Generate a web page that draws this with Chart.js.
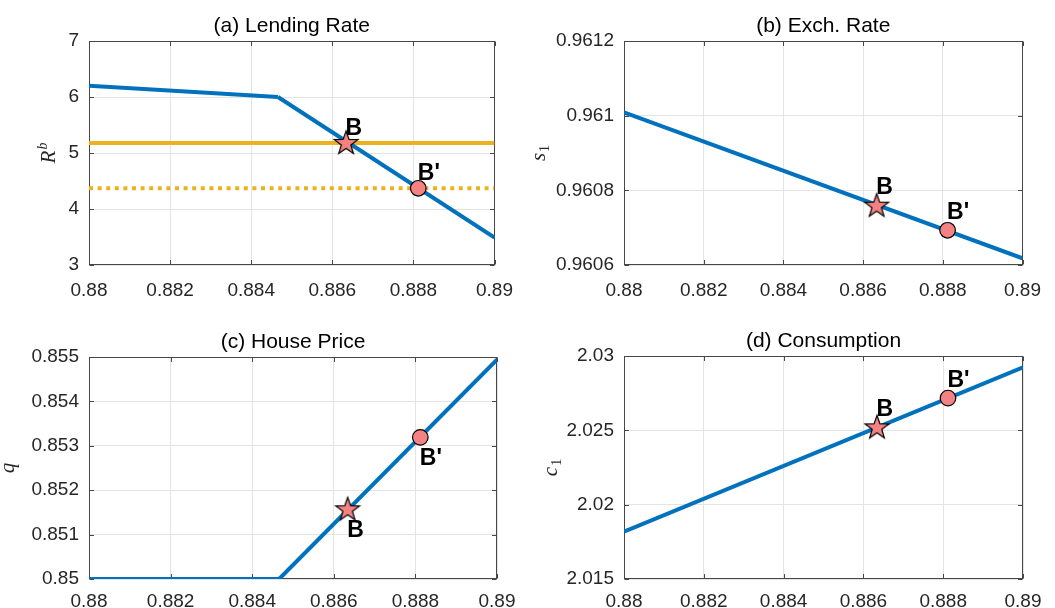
<!DOCTYPE html>
<html>
<head>
<meta charset="utf-8">
<title>Equilibrium responses</title>
<script src="https://cdn.jsdelivr.net/npm/chart.js@4.4.1/dist/chart.umd.min.js"></script>
<style>
  html, body { margin: 0; padding: 0; background: #ffffff; }
  #fig { position: relative; width: 1055px; height: 608px; overflow: hidden; background: #ffffff; }
  #fig canvas { position: absolute; display: block; }
</style>
</head>
<body>
<div id="fig">
  <canvas id="panelA" width="527" height="305" style="left:0px;top:0px"></canvas>
  <canvas id="panelB" width="528" height="305" style="left:527px;top:0px"></canvas>
  <canvas id="panelC" width="527" height="303" style="left:0px;top:305px"></canvas>
  <canvas id="panelD" width="528" height="303" style="left:527px;top:305px"></canvas>
</div>
<script>
// ---------------- data ----------------
// shared horizontal axis
const xTicks = [0.880, 0.882, 0.884, 0.886, 0.888, 0.890];
const xTickLabels = ['0.88', '0.882', '0.884', '0.886', '0.888', '0.89'];

// equilibrium points B and B'
const pointNames = ['B', "B'"];
const pointX = [0.88634, 0.88812];

// (a) lending rate: two regimes either side of the kink
const rateSeg1X = [0.880, 0.88466];
const rateSeg1Y = [6.20, 6.00];
const rateSeg2X = [0.88466, 0.890];
const rateSeg2Y = [6.00, 3.49];
const rateLevelSolid = 5.18;
const rateLevelDotted = 4.37;
const ratePointY = [5.18, 4.37];
const rateTicks = [3, 4, 5, 6, 7];
const rateTickLabels = ['3', '4', '5', '6', '7'];

// (b) exchange rate
const exchX = [0.880, 0.890];
const exchY = [0.961009, 0.960618];
const exchPointY = [0.960759, 0.960693];
const exchTicks = [0.9606, 0.9608, 0.9610, 0.9612];
const exchTickLabels = ['0.9606', '0.9608', '0.961', '0.9612'];

// (c) house price
const houseSeg1X = [0.880, 0.88466];
const houseSeg1Y = [0.850, 0.850];
const houseSeg2X = [0.88466, 0.890];
const houseSeg2Y = [0.850, 0.85494];
const housePointY = [0.85157, 0.85319];
const houseTicks = [0.850, 0.851, 0.852, 0.853, 0.854, 0.855];
const houseTickLabels = ['0.85', '0.851', '0.852', '0.853', '0.854', '0.855'];

// (d) consumption
const consX = [0.880, 0.890];
const consY = [2.01818, 2.02924];
const consPointY = [2.02520, 2.02717];
const consTicks = [2.015, 2.020, 2.025, 2.030];
const consTickLabels = ['2.015', '2.02', '2.025', '2.03'];

// ---------------- styling ----------------
const BLUE = '#0072BD';
const ORANGE = '#EDB120';
const MARKER_FILL = '#F48282';
const GRID = '#e4e4e4';
const AXIS = '#474747';
const TICK_TEXT = '#262626';
const SANS = "'Liberation Sans', Arial, Helvetica, sans-serif";
const SERIF = "'Liberation Serif', 'DejaVu Serif', 'Times New Roman', serif";

const zip = (xs, ys) => xs.map((x, i) => ({ x: x, y: ys[i] }));

// five-pointed star marker
function starMarker(r, fill) {
  const size = 2 * Math.ceil(r + 2);
  const c = document.createElement('canvas');
  c.width = size; c.height = size;
  const g = c.getContext('2d');
  const cx = size / 2, cy = size / 2 + 0.5;
  g.beginPath();
  for (let k = 0; k < 10; k++) {
    const rad = (k % 2 === 0) ? r : r * 0.40;
    const a = -Math.PI / 2 + k * Math.PI / 5;
    const px = cx + rad * Math.cos(a), py = cy + rad * Math.sin(a);
    if (k === 0) g.moveTo(px, py); else g.lineTo(px, py);
  }
  g.closePath();
  g.fillStyle = fill;
  g.fill();
  g.lineWidth = 1.2;
  g.strokeStyle = '#000000';
  g.lineJoin = 'miter';
  g.stroke();
  return c;
}
const STAR = starMarker(12.5, MARKER_FILL);

function curve(data, extra) {
  return Object.assign({
    data: data, borderColor: BLUE, borderWidth: 4, pointRadius: 0,
    showLine: true, fill: false, tension: 0, borderCapStyle: 'butt', order: 2
  }, extra || {});
}

function level(y, dashed) {
  return {
    data: [{ x: 0.880, y: y }, { x: 0.890, y: y }],
    borderColor: ORANGE, borderWidth: 4, pointRadius: 0, showLine: true,
    fill: false, borderDash: dashed ? [4, 4.6] : [], borderCapStyle: 'butt', order: 3
  };
}

function markers(ys) {
  return [
    { data: [{ x: pointX[0], y: ys[0] }], pointStyle: STAR, pointRadius: 12,
      showLine: false, order: 0, clip: false, pointName: pointNames[0] },
    { data: [{ x: pointX[1], y: ys[1] }], pointStyle: 'circle', pointRadius: 7.8,
      pointBackgroundColor: MARKER_FILL, pointBorderColor: '#000000', pointBorderWidth: 1.2,
      showLine: false, order: 0, clip: false, pointName: pointNames[1] }
  ];
}

// frame, inward tick marks, titles, y labels and point names
const decorPlugin = {
  id: 'decor',
  beforeDatasetsDraw(chart, args, o) {
    const ctx = chart.ctx, a = chart.chartArea;
    const L = Math.round(a.left) + 0.5, R = Math.round(a.right) - 0.5;
    const T = Math.round(a.top) + 0.5, B = Math.round(a.bottom) - 0.5;
    ctx.save();
    ctx.strokeStyle = AXIS;
    ctx.lineWidth = 1;
    ctx.strokeRect(L, T, R - L, B - T);
    const len = 4.5;
    ctx.beginPath();
    chart.scales.x.ticks.forEach(t => {
      const px = Math.round(chart.scales.x.getPixelForValue(t.value)) + 0.5;
      ctx.moveTo(px, B); ctx.lineTo(px, B - len);
      ctx.moveTo(px, T); ctx.lineTo(px, T + len);
    });
    chart.scales.y.ticks.forEach(t => {
      const py = Math.round(chart.scales.y.getPixelForValue(t.value)) + 0.5;
      ctx.moveTo(L, py); ctx.lineTo(L + len, py);
      ctx.moveTo(R, py); ctx.lineTo(R - len, py);
    });
    ctx.stroke();
    ctx.restore();
  },
  afterDatasetsDraw(chart, args, o) {
    const ctx = chart.ctx;
    ctx.save();
    ctx.font = 'bold 23px ' + SANS;
    ctx.fillStyle = '#000000';
    ctx.textAlign = 'left';
    chart.data.datasets.forEach((ds, i) => {
      if (!ds.pointName) return;
      const el = chart.getDatasetMeta(i).data[0];
      if (!el) return;
      if (o.below) {
        ctx.textBaseline = 'top';
        ctx.fillText(ds.pointName, el.x - 0.5, el.y + o.labelGap - 3);
      } else {
        ctx.textBaseline = 'alphabetic';
        ctx.fillText(ds.pointName, el.x - 0.5, el.y - o.labelGap);
      }
    });
    ctx.restore();
  },
  afterDraw(chart, args, o) {
    const ctx = chart.ctx, a = chart.chartArea;
    ctx.save();
    // panel title
    ctx.font = '21px ' + SANS;
    ctx.fillStyle = '#000000';
    ctx.textAlign = 'center';
    ctx.textBaseline = 'alphabetic';
    ctx.fillText(o.title, (a.left + a.right) / 2, a.top - 9.5);
    // y-axis symbol, rotated
    const cy = (a.top + a.bottom) / 2;
    ctx.translate(o.symbolX, cy);
    ctx.rotate(-Math.PI / 2);
    ctx.fillStyle = TICK_TEXT;
    const mainFont = 'italic 21px ' + SERIF;
    const smallFont = (o.symbol.subUpright ? '' : 'italic ') + '14px ' + SERIF;
    ctx.font = mainFont;
    const w1 = ctx.measureText(o.symbol.base).width;
    ctx.font = smallFont;
    const small = o.symbol.sup || o.symbol.sub || '';
    const w2 = small ? ctx.measureText(small).width + 1 : 0;
    const x0 = -(w1 + w2) / 2;
    ctx.textAlign = 'left';
    ctx.font = mainFont;
    ctx.fillText(o.symbol.base, x0, 0);
    if (small) {
      ctx.font = smallFont;
      const dy = o.symbol.sup ? -8 : 4;
      ctx.fillText(small, x0 + w1 + 1, dy);
    }
    ctx.restore();
  }
};

function yScale(min, max, ticks, labels, width) {
  return {
    type: 'linear', min: min, max: max,
    afterBuildTicks: s => { s.ticks = ticks.map(v => ({ value: v })); },
    afterFit: s => { s.width = width; },
    grid: { color: GRID, lineWidth: 1, drawTicks: false },
    border: { display: false },
    ticks: {
      padding: 10, color: TICK_TEXT, font: { family: SANS, size: 19 },
      autoSkip: false, callback: (v, i) => labels[i]
    }
  };
}

function xScale(height, pad) {
  return {
    type: 'linear', min: 0.880, max: 0.890,
    afterBuildTicks: s => { s.ticks = xTicks.map(v => ({ value: v })); },
    afterFit: s => { s.height = height; },
    grid: { color: GRID, lineWidth: 1, drawTicks: false },
    border: { display: false },
    ticks: {
      padding: pad, color: TICK_TEXT, font: { family: SANS, size: 19 },
      autoSkip: false, maxRotation: 0, minRotation: 0,
      callback: (v, i) => xTickLabels[i]
    }
  };
}

function panel(id, datasets, cfg) {
  return new Chart(document.getElementById(id), {
    type: 'scatter',
    data: { datasets: datasets },
    options: {
      responsive: false, animation: false, devicePixelRatio: 1,
      layout: { padding: { top: cfg.top, right: cfg.right, left: 0, bottom: 0 } },
      scales: {
        x: xScale(cfg.xHeight, cfg.xPad),
        y: yScale(cfg.yMin, cfg.yMax, cfg.yTicks, cfg.yLabels, cfg.yWidth)
      },
      plugins: {
        legend: { display: false }, tooltip: { enabled: false }, title: { display: false },
        decor: {
          title: cfg.title, symbol: cfg.symbol, symbolX: cfg.symbolX,
          below: !!cfg.below, labelGap: cfg.labelGap
        }
      }
    },
    plugins: [decorPlugin]
  });
}

// (a) Lending Rate
panel('panelA', [
  curve(zip(rateSeg1X, rateSeg1Y)),
  curve(zip(rateSeg2X, rateSeg2Y)),
  level(rateLevelSolid, false),
  level(rateLevelDotted, true),
  ...markers(ratePointY)
], {
  title: '(a) Lending Rate', symbol: { base: 'R', sup: 'b' }, symbolX: 55,
  top: 41, right: 30, xHeight: 40, xPad: 14, yWidth: 89,
  yMin: 3, yMax: 7, yTicks: rateTicks, yLabels: rateTickLabels, labelGap: 8
});

// (b) Exch. Rate
panel('panelB', [
  curve(zip(exchX, exchY)),
  ...markers(exchPointY)
], {
  title: '(b) Exch. Rate', symbol: { base: 's', sub: '1', subUpright: true }, symbolX: 18,
  top: 41, right: 32, xHeight: 40, xPad: 14, yWidth: 97,
  yMin: 0.9606, yMax: 0.9612, yTicks: exchTicks, yLabels: exchTickLabels, labelGap: 11.5
});

// (c) House Price
panel('panelC', [
  curve(zip(houseSeg1X, houseSeg1Y)),
  curve(zip(houseSeg2X, houseSeg2Y)),
  ...markers(housePointY)
], {
  title: '(c) House Price', symbol: { base: 'q' }, symbolX: 14,
  top: 52, right: 30, xHeight: 29, xPad: 11, yWidth: 89,
  yMin: 0.850, yMax: 0.855, yTicks: houseTicks, yLabels: houseTickLabels,
  below: true, labelGap: 12.5
});

// (d) Consumption
panel('panelD', [
  curve(zip(consX, consY)),
  ...markers(consPointY)
], {
  title: '(d) Consumption', symbol: { base: 'c', sub: '1', subUpright: true }, symbolX: 30,
  top: 51, right: 32, xHeight: 29, xPad: 11, yWidth: 97,
  yMin: 2.015, yMax: 2.030, yTicks: consTicks, yLabels: consTickLabels, labelGap: 11.3
});
</script>
</body>
</html>
